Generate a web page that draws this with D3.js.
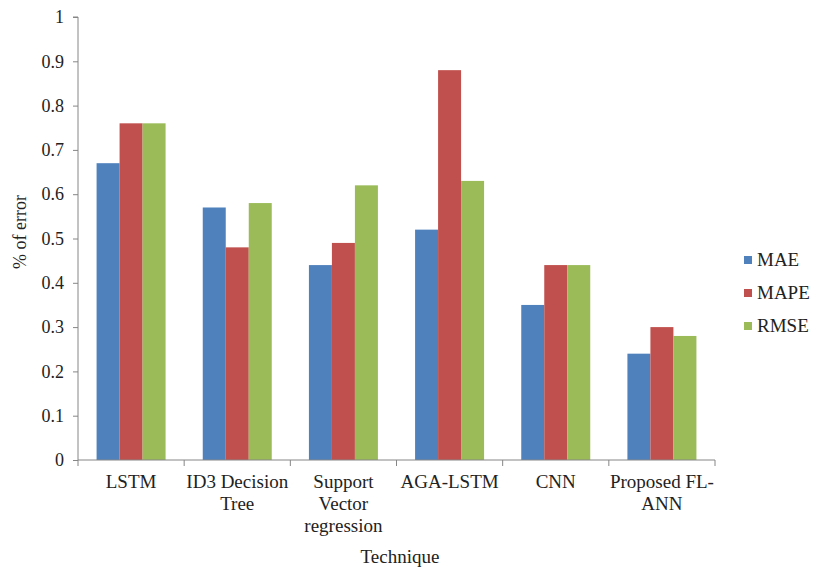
<!DOCTYPE html>
<html><head><meta charset="utf-8">
<script src="https://cdn.jsdelivr.net/npm/d3@7"></script>
<style>body{margin:0;background:#fff}svg{display:block}svg text{font-family:"Liberation Serif","Times New Roman","DejaVu Serif",serif !important;fill:#222}</style>
</head><body><svg id="c" width="813" height="567" font-family="Liberation Serif, Times New Roman, serif"></svg>
<script>
const categories = [["LSTM"], ["ID3 Decision", "Tree"], ["Support", "Vector", "regression"], ["AGA-LSTM"], ["CNN"], ["Proposed FL-", "ANN"]];
const seriesNames = ["MAE", "MAPE", "RMSE"];
const MAE  = [0.67, 0.57, 0.44, 0.52, 0.35, 0.24];
const MAPE = [0.76, 0.48, 0.49, 0.88, 0.44, 0.30];
const RMSE = [0.76, 0.58, 0.62, 0.63, 0.44, 0.28];
const yTicks = [0, 0.1, 0.2, 0.3, 0.4, 0.5, 0.6, 0.7, 0.8, 0.9, 1];
const colors = ["#4F81BD", "#C0504D", "#9BBB59"];
const series = [MAE, MAPE, RMSE];
const FONT = "Liberation Serif, Times New Roman, serif";

const svg = d3.select("#c");
const x0 = 78, x1 = 715, yTop = 17, yBot = 460;
const keys = categories.map((c, i) => i);
const x = d3.scaleBand().domain(keys).range([x0, x1]).paddingInner(0).paddingOuter(0);
const barW = 23;
const y = d3.scaleLinear().domain([0, 1]).range([yBot, yTop]);

// bars
keys.forEach(i => {
  const cx = x(i) + x.bandwidth() / 2;
  series.forEach((s, k) => {
    svg.append("rect")
      .attr("x", cx - 1.5 * barW + k * barW)
      .attr("y", y(s[i]))
      .attr("width", barW)
      .attr("height", y(0) - y(s[i]))
      .attr("fill", colors[k]);
  });
});

// y axis
const yAxis = svg.append("g").attr("transform", `translate(${x0},0)`)
  .call(d3.axisLeft(y).tickValues(yTicks).tickSize(5).tickPadding(9).tickFormat(d => d3.format("")(+d.toFixed(1))));
yAxis.attr("font-family", FONT);
yAxis.select(".domain").attr("stroke", "#868686").attr("d", `M-5,${y(1)}H0V${y(0)}`);
yAxis.selectAll(".tick line").attr("stroke", "#868686");
yAxis.selectAll(".tick text").attr("font-size", 18).attr("fill", "#222").attr("font-family", FONT);

// x axis
const xg = svg.append("g").attr("transform", `translate(0,${yBot})`);
xg.append("line").attr("x1", x0).attr("x2", x1).attr("y1", 0).attr("y2", 0).attr("stroke", "#868686");
const tickPos = keys.map(i => x(i)).concat([x1]);
xg.selectAll(".xt").data(tickPos).enter().append("line")
  .attr("x1", d => d).attr("x2", d => d).attr("y1", 0).attr("y2", 6).attr("stroke", "#868686");
keys.forEach(i => {
  const t = xg.append("text").attr("text-anchor", "middle").attr("font-size", 19).attr("font-family", FONT)
    .attr("x", x(i) + x.bandwidth() / 2).attr("y", 28);
  categories[i].forEach((ln, j) => {
    t.append("tspan").attr("x", x(i) + x.bandwidth() / 2).attr("dy", j === 0 ? 0 : 22).text(ln);
  });
});

// axis titles
svg.append("text").attr("x", 400).attr("y", 563).attr("text-anchor", "middle").attr("font-size", 19).attr("font-family", FONT).text("Technique");
svg.append("text").attr("transform", "translate(26,232) rotate(-90)").attr("text-anchor", "middle").attr("font-size", 18).attr("font-family", FONT).text("% of error");

// legend
const leg = svg.append("g");
seriesNames.forEach((n, k) => {
  const ly = 260 + k * 33;
  leg.append("rect").attr("x", 744).attr("y", ly - 4).attr("width", 8).attr("height", 8).attr("fill", colors[k]);
  leg.append("text").attr("x", 757).attr("y", ly + 6).attr("font-size", 19).attr("font-family", FONT).text(n);
});
</script></body></html>
